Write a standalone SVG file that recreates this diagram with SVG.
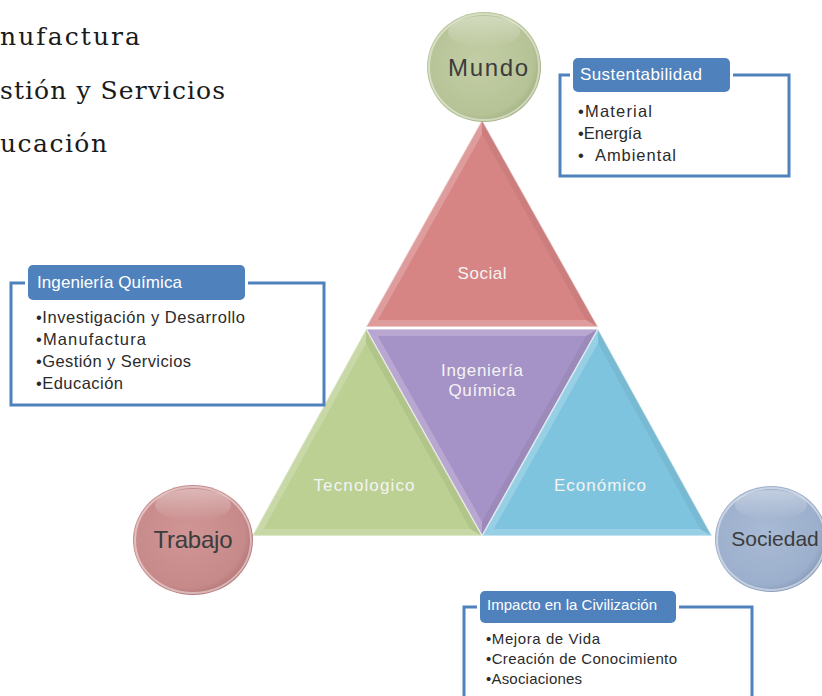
<svg xmlns="http://www.w3.org/2000/svg" width="822" height="696" viewBox="0 0 822 696">
<defs>
<radialGradient id="gMundo" cx="0.45" cy="0.45" r="0.6"><stop offset="0" stop-color="#c3cda5"/><stop offset="0.8" stop-color="#b6c396"/><stop offset="1" stop-color="#9eab7c"/></radialGradient>
<radialGradient id="gTrabajo" cx="0.45" cy="0.45" r="0.6"><stop offset="0" stop-color="#d09595"/><stop offset="0.8" stop-color="#c78a8a"/><stop offset="1" stop-color="#ac6e6e"/></radialGradient>
<radialGradient id="gSociedad" cx="0.45" cy="0.45" r="0.6"><stop offset="0" stop-color="#a8bad4"/><stop offset="0.8" stop-color="#9cafcc"/><stop offset="1" stop-color="#7f94b4"/></radialGradient>
<linearGradient id="gloss" x1="0" y1="0" x2="0" y2="1"><stop offset="0" stop-color="#fff" stop-opacity="0.75"/><stop offset="1" stop-color="#fff" stop-opacity="0"/></linearGradient>
</defs>
<style>
.serif{font-family:"DejaVu Serif","Liberation Serif",serif;font-size:25px;fill:#1a1a1a}
.tri{stroke:#fff;stroke-opacity:0.55;stroke-width:1.5}
.tl{font-family:"Liberation Sans",Arial,sans-serif;font-size:17px;fill:#f4f4f4;text-anchor:middle}
.ct{font-family:"Liberation Sans",Arial,sans-serif;font-size:24px;fill:#3c3c3c;text-anchor:middle}
.rim{fill:none;stroke:#fff;stroke-opacity:0.45;stroke-width:2}
.frame{fill:#fff;stroke:#4f81bd;stroke-width:3}
.hdr{fill:#4f81bd;stroke:#fff;stroke-width:6;paint-order:stroke}
.ht{font-family:"Liberation Sans",Arial,sans-serif;font-size:17px;fill:#fff}
.li{font-family:"Liberation Sans",Arial,sans-serif;font-size:16.5px;fill:#2b2b2b}
.li2{font-family:"Liberation Sans",Arial,sans-serif;font-size:15px;fill:#2b2b2b}
.ht2{font-family:"Liberation Sans",Arial,sans-serif;font-size:15px;fill:#fff}
.lt{fill:#fff;fill-opacity:0.2}
.dk{fill:#000;fill-opacity:0.05}
</style>

<g id="topleft-text">
<text class="serif" x="140" y="45" text-anchor="end" textLength="140">nufactura</text>
<text class="serif" x="225" y="99" text-anchor="end" textLength="225">stión y Servicios</text>
<text class="serif" x="107" y="152" text-anchor="end" textLength="107">ucación</text>
</g>

<g id="connectors"></g>

<g id="social">
<polygon class="tri" points="482,120 366,327 598,327" fill="#d68584"/>
<polygon class="lt" points="482,120 366,327 377.9,320 482,134.3"/>
<polygon class="dk" points="482,120 598,327 586.1,320 482,134.3"/>
<polygon class="lt" points="366,327 598,327 586.1,320 377.9,320"/>
<text class="tl" x="482" y="279" textLength="49">Social</text>
</g>

<g id="ingenieria-quimica">
<polygon class="tri" points="366,329 598,329 482,536" fill="#a592c6"/>
<polygon class="lt" points="366,329 598,329 586.1,336 377.9,336"/>
<polygon class="lt" points="366,329 482,536 482,521.7 377.9,336"/>
<polygon class="dk" points="598,329 482,536 482,521.7 586.1,336"/>
<text class="tl" x="482" y="376" textLength="82">Ingeniería</text>
<text class="tl" x="482" y="396" textLength="67">Química</text>
</g>

<g id="tecnologico">
<polygon class="tri" points="366,329 252,536 482,536" fill="#bbd092"/>
<polygon class="lt" points="366,329 252,536 263.8,529 366.1,343.3"/>
<polygon class="dk" points="366,329 482,536 470.2,529 366.1,343.3"/>
<polygon class="lt" points="252,536 482,536 470.2,529 263.8,529"/>
<text class="tl" x="364" y="491" textLength="101">Tecnologico</text>
</g>

<g id="economico">
<polygon class="tri" points="598,329 482,536 712,536" fill="#7ec4de"/>
<polygon class="lt" points="598,329 482,536 493.8,529 598,343.3"/>
<polygon class="dk" points="598,329 712,536 700.2,529 598,343.3"/>
<polygon class="lt" points="482,536 712,536 700.2,529 493.8,529"/>
<text class="tl" x="600" y="491" textLength="92">Económico</text>
</g>

<g id="mundo">
<ellipse cx="484" cy="67" rx="57" ry="55" fill="url(#gMundo)"/>
<ellipse cx="484" cy="67" rx="55" ry="53" class="rim"/>
<ellipse cx="484" cy="32" rx="36" ry="16" fill="url(#gloss)" opacity="0.5"/>
<text class="ct" x="488" y="76" textLength="80">Mundo</text>
</g>

<g id="trabajo">
<ellipse cx="193" cy="540" rx="60" ry="55" fill="url(#gTrabajo)"/>
<ellipse cx="193" cy="540" rx="58" ry="53" class="rim"/>
<ellipse cx="193" cy="505" rx="38" ry="16" fill="url(#gloss)" opacity="0.5"/>
<text class="ct" x="193" y="548" textLength="79">Trabajo</text>
</g>

<g id="sociedad">
<ellipse cx="771" cy="539" rx="56" ry="53" fill="url(#gSociedad)"/>
<ellipse cx="771" cy="539" rx="54" ry="51" class="rim"/>
<ellipse cx="771" cy="505" rx="36" ry="15" fill="url(#gloss)" opacity="0.5"/>
<text class="ct" x="775" y="546" style="font-size:21px">Sociedad</text>
</g>

<g id="sustentabilidad">
<rect class="frame" x="560" y="75" width="229" height="101"/>
<rect class="hdr" x="573" y="58" width="157" height="34" rx="5"/>
<text class="ht" x="580" y="80" textLength="122">Sustentabilidad</text>
<text class="li" x="578" y="117" textLength="74">•Material</text>
<text class="li" x="578" y="139">•Energía</text>
<text class="li" x="578" y="161" xml:space="preserve" textLength="98">•  Ambiental</text>
</g>

<g id="ingenieria-box">
<rect class="frame" x="11" y="283" width="313" height="122"/>
<rect class="hdr" x="28" y="265" width="217" height="35" rx="5"/>
<text class="ht" x="37" y="288" textLength="145">Ingeniería Química</text>
<text class="li" x="36" y="323" textLength="209">•Investigación y Desarrollo</text>
<text class="li" x="36" y="345" textLength="110">•Manufactura</text>
<text class="li" x="36" y="367" textLength="155">•Gestión y Servicios</text>
<text class="li" x="36" y="389" textLength="87">•Educación</text>
</g>

<g id="impacto">
<rect class="frame" x="464" y="607" width="288" height="120"/>
<rect class="hdr" x="480" y="591" width="196" height="32" rx="5"/>
<text class="ht2" x="487" y="610" textLength="170">Impacto en la Civilización</text>
<text class="li2" x="486" y="644" textLength="114">•Mejora de Vida</text>
<text class="li2" x="486" y="664" textLength="191">•Creación de Conocimiento</text>
<text class="li2" x="486" y="684" textLength="96">•Asociaciones</text>
</g>
</svg>
